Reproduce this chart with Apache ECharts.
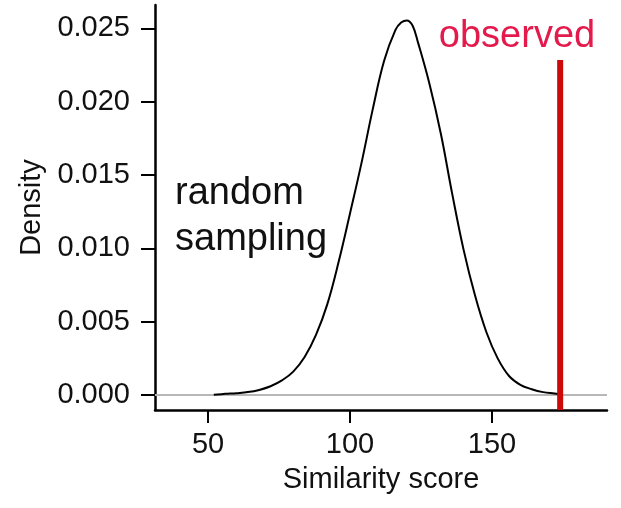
<!DOCTYPE html>
<html>
<head>
<meta charset="utf-8">
<script src="https://cdn.jsdelivr.net/npm/echarts@6/dist/echarts.min.js"></script>
<style>
html,body{margin:0;padding:0;background:#fff;}
#main{width:621px;height:508px;}
</style>
</head>
<body>
<div id="main"></div>
<script>
// Density curve of random-sampling similarity scores
const scores = [52, 56, 60, 64, 68, 72, 76, 80, 84, 88, 92, 96, 100, 104, 108, 112, 116, 118, 120, 122, 124, 128, 132, 136, 140, 144, 148, 152, 156, 160, 164, 168, 172, 174];
const density = [0.00002, 0.00008, 0.00013, 0.0002, 0.00035, 0.0006, 0.001, 0.0016, 0.0026, 0.0041, 0.0062, 0.0091, 0.0124, 0.0158, 0.0195, 0.0228, 0.0249, 0.0254, 0.02555, 0.0252, 0.024, 0.0212, 0.0178, 0.0137, 0.0099, 0.0068, 0.0043, 0.0025, 0.0013, 0.0007, 0.0004, 0.0002, 0.0001, 0.00005];
const observedScore = 174;
const observedTop = 0.02285;
const xTicks = [50, 100, 150];
const yTicks = [0, 0.005, 0.010, 0.015, 0.020, 0.025];
const xRange = [31.3, 190.5];
const yRange = [-0.00102, 0.0266];

const FONT = '"Liberation Sans", Arial, Helvetica, sans-serif';
const chart = echarts.init(document.getElementById('main'), null, {renderer: 'canvas'});

const curveData = scores.map((s, i) => [s, density[i]]);

chart.setOption({
  backgroundColor: '#ffffff',
  animation: false,
  grid: {left: 155, right: 14, top: 5, bottom: 98, containLabel: false, outerBoundsMode: 'none'},
  xAxis: {
    type: 'value',
    min: xRange[0], max: xRange[1],
    name: 'Similarity score',
    nameLocation: 'middle',
    nameGap: 55,
    nameTextStyle: {fontFamily: FONT, fontSize: 29, color: '#111'},
    axisLine: {show: true, onZero: false, lineStyle: {color: '#000', width: 2.5}},
    axisTick: {show: true, inside: false, length: 13, customValues: xTicks, lineStyle: {color: '#000', width: 2}},
    axisLabel: {show: true, margin: 20, customValues: xTicks, fontFamily: FONT, fontSize: 29, color: '#111'},
    splitLine: {show: false}
  },
  yAxis: {
    type: 'value',
    min: yRange[0], max: yRange[1],
    name: 'Density',
    nameLocation: 'middle',
    nameRotate: 90,
    nameGap: 104,
    nameTextStyle: {fontFamily: FONT, fontSize: 29, color: '#111'},
    axisLine: {show: true, onZero: false, lineStyle: {color: '#000', width: 2.5}},
    axisTick: {show: true, inside: false, length: 14, customValues: yTicks, lineStyle: {color: '#000', width: 2}},
    axisLabel: {show: true, margin: 25, customValues: yTicks, fontFamily: FONT, fontSize: 29, color: '#111',
      formatter: v => Number(v).toFixed(3)},
    splitLine: {show: false}
  },
  series: [
    {
      type: 'line',
      data: curveData,
      showSymbol: false,
      smooth: 0.4,
      lineStyle: {color: '#000', width: 2},
      z: 3,
      markLine: {
        silent: true,
        symbol: 'none',
        label: {show: false},
        lineStyle: {color: '#b8b8b8', width: 2, type: 'solid'},
        data: [{yAxis: 0}],
        z: 1
      }
    },
    {
      type: 'line',
      data: [[observedScore, yRange[0]], [observedScore, observedTop]],
      showSymbol: false,
      lineStyle: {color: '#cc0a0a', width: 6, cap: 'butt'},
      z: 4
    }
  ],
  graphic: [
    {type: 'text', z: 10, style: {x: 517, y: 37, text: 'observed', fill: '#e31a4b', font: '38px ' + FONT, textAlign: 'center', textVerticalAlign: 'middle'}},
    {type: 'text', z: 10, style: {x: 175, y: 193.5, text: 'random', fill: '#111', font: '38px ' + FONT, textAlign: 'left', textVerticalAlign: 'middle'}},
    {type: 'text', z: 10, style: {x: 175, y: 240, text: 'sampling', fill: '#111', font: '38px ' + FONT, textAlign: 'left', textVerticalAlign: 'middle'}}
  ]
});
</script>
</body>
</html>
